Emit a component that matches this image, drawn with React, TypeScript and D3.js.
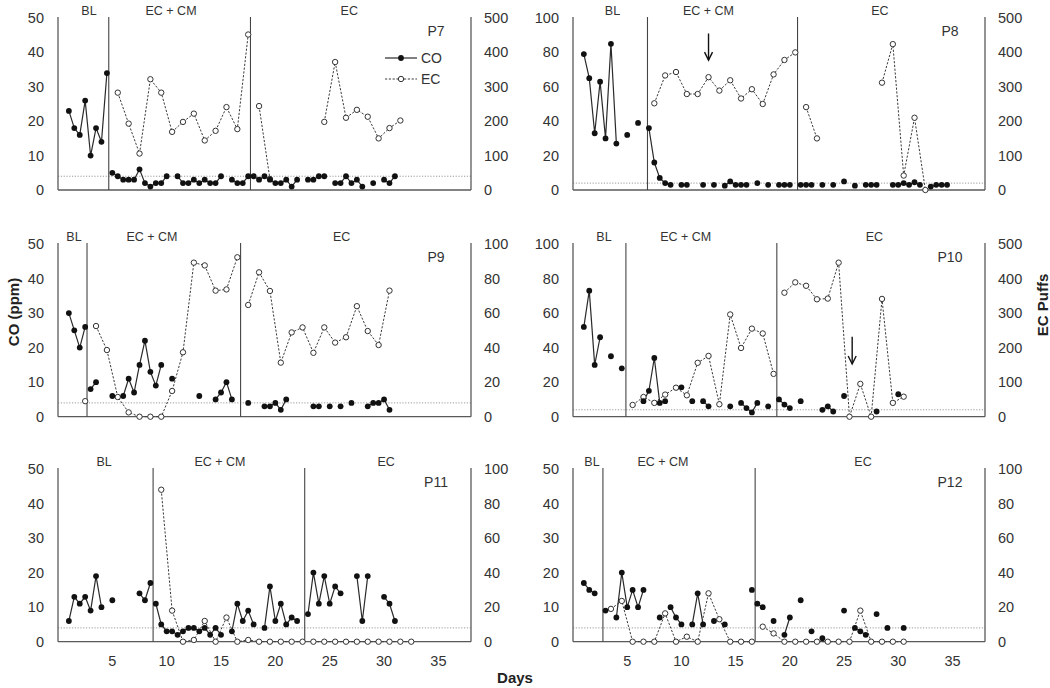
import React from 'react';
import * as d3 from 'd3';

// ---------- DATA ----------
// CO readings: twice daily, session i is at day 1 + 0.5*i (null = no reading)
const p7CO = [23,18,16,26,10,18,14,34, 5,4,3,3,3,6,2,1,2,2,4,null, 4,2,2,3,2,3,2,2,4,null, 3,2,2,4, 4,3,4,3,2,2,3,1,3,null, 3,3,4,4,null, 2,2,4,2,3,1,null, 2,null, 3,2,4];
const p8CO = [79,65,33,63,30,85,27,null,32,null,39,null, 36,16,7,4,3,null,3,3,null,null,3,null,3,null,2.5,5,3,3,3,null,4,null,3,null,3,3,3,null, 3,3,3,null,3,null,3,null,5,null,2.5,null,3,3,3,null,null,3,3,4,3,4.5,3,null,2,3,3,3];
const p9CO = [30,25,20,26, 8,10,null,null,6,null,6,11,7,15,22,13,9,15,null,11,null,null,null,null,6,null,null,5,7,10,5,null,null, 4,null,null,3,3,4,2,5,null,null,null,null,3,3,null,3,null,3,null,4,null,null,3,4,4,5,2];
const p10CO = [52,73,30,46,null,35,null,28, null,null,null,9,15,34,8,9,null,null,17,null,9,null,9,6,null,null,null,6,null,8,5,2.5,8,null,6,null, 10,7,5,null,9,null,null,null,4,6,3,null,12,null,null,null,null,null,3,null,null,null,13];
const p11CO = [6,13,11,13,9,19,10,null,12,null,null,null,null,14,12,17, 11,5,3,3,2,3,4,4,3,4,2,4,2,null,3,11,6,9,5,null,4,16,6,11,5,7,6,null, 8,20,11,19,11,16,14,null,null,19,6,19,null,null,13,11,6];
const p12CO = [17,15,14,null, 9,null,7,20,10,15,10,15,null,null,7,null,10,7,5,null,5,14,5,null,6,null,5,null,null,null,null,15, 11,10,null,6,null,2,7,null,12,null,3,null,1,null,null,null,9,null,4,3,2,null,8,null,4,null,null,4];

// EC puffs: once daily, entry e is at day 1.5 + e (null = no entry)
const p7EC = [null,null,null,null,283,193,106,322,283,169,198,222,144,172,241,177,452,244,32,null,null,null,null,198,372,210,233,213,150,180,202];
const p8EC = [null,null,null,null,null,null,252,333,343,279,279,328,289,319,266,293,250,336,378,400,241,150,null,null,null,null,null,312,424,42,210,0];
const p9EC = [null,9,52.5,38.6,11.4,2.5,0,0,0,14.9,37.3,89.2,87.6,73,73.7,92.3,64.7,83.6,72.8,31.3,48.8,51.7,37,51.7,42.9,46,64,49.6,41.5,73];
const p10EC = [null,null,null,null,34,57,40,64,84,62,156,176,36,296,199,255,241,124,359,389,379,340,342,446,0,95,0,341,40,58];
const p11EC = [null,null,null,null,null,null,null,null,88,18,0,1,12,0,14,0,1,0,0,0,0,0,0,0,0,0,0,0,0,0,0,0];
const p12EC = [null,null,19,23.6,0,0,0,16.4,0,2.9,0,28,13,0,0,0,8.7,4.8,0,0,0,0,0,0,0,18,0,0,0,0];

// Phase boundaries (days): BL | EC + CM | EC
const p7Phases = [4.67, 17.71];
const p8Phases = [6.87, 20.71];
const p9Phases = [2.67, 16.8];
const p10Phases = [4.88, 18.8];
const p11Phases = [8.75, 22.7];
const p12Phases = [2.76, 16.8];

const phaseNames = ['BL', 'EC + CM', 'EC'];
const xTicks = [5, 10, 15, 20, 25, 30, 35];
const threshold = 4;

// ---------- LAYOUT ----------
const W = 1050, H = 688;
const colX = [[58, 471], [573, 985]];
const rowY = [[18, 190], [244, 416.7], [469, 641.7]];
const FONT = "'Liberation Sans', Arial, Helvetica, sans-serif";
const TXT = '#333';

type PanelCfg = {
  name: string; co: (number | null)[]; ec: (number | null)[]; phases: number[];
  coMax: number; ecMax: number; col: number; row: number; labelDays: number[];
  arrow?: { day: number; from: number; to: number }; legend?: boolean; xAxis?: boolean;
};

const panels: PanelCfg[] = [
  { name: 'P7', co: p7CO, ec: p7EC, phases: p7Phases, coMax: 50, ecMax: 500, col: 0, row: 0, labelDays: [2.85, 10.4, 26.8], legend: true },
  { name: 'P8', co: p8CO, ec: p8EC, phases: p8Phases, coMax: 100, ecMax: 500, col: 1, row: 0, labelDays: [3.64, 12.5, 28.3], arrow: { day: 12.5, from: 91, to: 75.5 } },
  { name: 'P9', co: p9CO, ec: p9EC, phases: p9Phases, coMax: 50, ecMax: 100, col: 0, row: 1, labelDays: [1.47, 8.65, 26.1] },
  { name: 'P10', co: p10CO, ec: p10EC, phases: p10Phases, coMax: 100, ecMax: 500, col: 1, row: 1, labelDays: [2.86, 10.4, 27.8], arrow: { day: 25.75, from: 46.3, to: 30.5 } },
  { name: 'P11', co: p11CO, ec: p11EC, phases: p11Phases, coMax: 50, ecMax: 100, col: 0, row: 2, labelDays: [4.24, 14.9, 30.2], xAxis: true },
  { name: 'P12', co: p12CO, ec: p12EC, phases: p12Phases, coMax: 50, ecMax: 100, col: 1, row: 2, labelDays: [1.75, 8.3, 26.75], xAxis: true },
];

type Pt = { d: number; v: number; ph: number };
function segments(values: (number | null)[], dayOf: (i: number) => number, phases: number[]) {
  const segs: Pt[][] = [];
  let cur: Pt[] = [];
  values.forEach((v, i) => {
    if (v == null) { if (cur.length) segs.push(cur); cur = []; return; }
    const d = dayOf(i);
    const ph = phases.filter(p => p < d).length;
    if (cur.length && cur[cur.length - 1].ph !== ph) { segs.push(cur); cur = []; }
    cur.push({ d, v, ph });
  });
  if (cur.length) segs.push(cur);
  return segs;
}

function Panel({ p }: { p: PanelCfg }) {
  const [L, R] = colX[p.col];
  const [T, B] = rowY[p.row];
  const x = d3.scaleLinear().domain([0, 38]).range([L, R]);
  const yCO = d3.scaleLinear().domain([0, p.coMax]).range([B, T]);
  const yEC = d3.scaleLinear().domain([0, p.ecMax]).range([B, T]);
  const coSegs = segments(p.co, i => 1 + 0.5 * i, p.phases);
  const ecSegs = segments(p.ec, e => 1.5 + e, p.phases);
  const lineCO = d3.line<Pt>().x(q => x(q.d)).y(q => yCO(q.v));
  const lineEC = d3.line<Pt>().x(q => x(q.d)).y(q => yEC(q.v));
  const leftTicks = yCO.ticks(5);
  const rightTicks = yEC.ticks(5);
  const ecPts = ecSegs.flat();
  const coPts = coSegs.flat();
  return (
    <g>
      <line x1={L} x2={R} y1={yCO(threshold)} y2={yCO(threshold)} stroke="#9a9a9a" strokeWidth={1} strokeDasharray="1.2,1.6" />
      <line x1={L} x2={L} y1={T - 1} y2={B} stroke="#5a5a5a" strokeWidth={1.3} />
      <line x1={R} x2={R} y1={T - 1} y2={B} stroke="#5a5a5a" strokeWidth={1.3} />
      <line x1={L} x2={R} y1={B} y2={B} stroke="#5a5a5a" strokeWidth={1.3} />
      {p.phases.map((d, i) => (
        <line key={'ph' + i} x1={x(d)} x2={x(d)} y1={T - 1} y2={B} stroke="#444" strokeWidth={1.1} />
      ))}
      {p.labelDays.map((d, i) => (
        <text key={'pl' + i} x={x(d)} y={T - 7.5} fontSize={12.5} fontFamily={FONT} fill={TXT} textAnchor="middle" dominantBaseline="central">{phaseNames[i]}</text>
      ))}
      {leftTicks.map(t => (
        <text key={'l' + t} x={L - 14} y={yCO(t)} fontSize={14.5} fontFamily={FONT} fill={TXT} textAnchor="end" dominantBaseline="central">{t}</text>
      ))}
      {rightTicks.map(t => (
        <text key={'r' + t} x={R + 13} y={yEC(t)} fontSize={14.5} fontFamily={FONT} fill={TXT} textAnchor="start" dominantBaseline="central">{t}</text>
      ))}
      {p.xAxis && xTicks.map(t => (
        <text key={'x' + t} x={x(t)} y={B + 19} fontSize={14.5} fontFamily={FONT} fill={TXT} textAnchor="middle" dominantBaseline="central">{t}</text>
      ))}
      <text x={R - 35} y={T + 13} fontSize={14} fontFamily={FONT} fill={TXT} textAnchor="middle" dominantBaseline="central">{p.name}</text>
      {ecSegs.map((s, i) => (
        <path key={'ecl' + i} d={lineEC(s) || ''} fill="none" stroke="#3a3a3a" strokeWidth={1} strokeDasharray="2.2,1.6" />
      ))}
      {coSegs.map((s, i) => (
        <path key={'col' + i} d={lineCO(s) || ''} fill="none" stroke="#2a2a2a" strokeWidth={1.2} />
      ))}
      {ecPts.map((q, i) => (
        <circle key={'ecc' + i} cx={x(q.d)} cy={yEC(q.v)} r={2.7} fill="#fff" stroke="#333" strokeWidth={1} />
      ))}
      {coPts.map((q, i) => (
        <circle key={'coc' + i} cx={x(q.d)} cy={yCO(q.v)} r={2.9} fill="#111" />
      ))}
      {p.arrow && (() => {
        const ax = x(p.arrow.day);
        const y1 = yCO(p.arrow.from), y2 = yCO(p.arrow.to);
        return (
          <g stroke="#111" strokeWidth={1.4} fill="none">
            <line x1={ax} x2={ax} y1={y1} y2={y2} />
            <polyline points={`${ax - 4},${y2 - 8} ${ax},${y2} ${ax + 4},${y2 - 8}`} />
          </g>
        );
      })()}
      {p.legend && (
        <g>
          <line x1={R - 86} x2={R - 54} y1={T + 40} y2={T + 40} stroke="#2a2a2a" strokeWidth={1.2} />
          <circle cx={R - 70} cy={T + 40} r={2.9} fill="#111" />
          <text x={R - 50} y={T + 40} fontSize={14} fontFamily={FONT} fill={TXT} dominantBaseline="central">CO</text>
          <line x1={R - 86} x2={R - 54} y1={T + 61} y2={T + 61} stroke="#3a3a3a" strokeWidth={1} strokeDasharray="2.2,1.6" />
          <circle cx={R - 70} cy={T + 61} r={2.7} fill="#fff" stroke="#333" strokeWidth={1} />
          <text x={R - 50} y={T + 61} fontSize={14} fontFamily={FONT} fill={TXT} dominantBaseline="central">EC</text>
        </g>
      )}
    </g>
  );
}

export default function App() {
  return (
    <svg width={W} height={H} viewBox={`0 0 ${W} ${H}`} style={{ position: 'absolute', left: 0, top: 0, background: '#fff' }}>
      <rect x={0} y={0} width={W} height={H} fill="#fff" />
      {panels.map(p => <Panel key={p.name} p={p} />)}
      <text transform="translate(13,312) rotate(-90)" fontSize={15} fontWeight="bold" fontFamily={FONT} fill="#222" textAnchor="middle" dominantBaseline="central">CO (ppm)</text>
      <text transform="translate(1042,305) rotate(-90)" fontSize={15} fontWeight="bold" fontFamily={FONT} fill="#222" textAnchor="middle" dominantBaseline="central">EC Puffs</text>
      <text x={515} y={677} fontSize={15} fontWeight="bold" fontFamily={FONT} fill="#222" textAnchor="middle" dominantBaseline="central">Days</text>
    </svg>
  );
}
